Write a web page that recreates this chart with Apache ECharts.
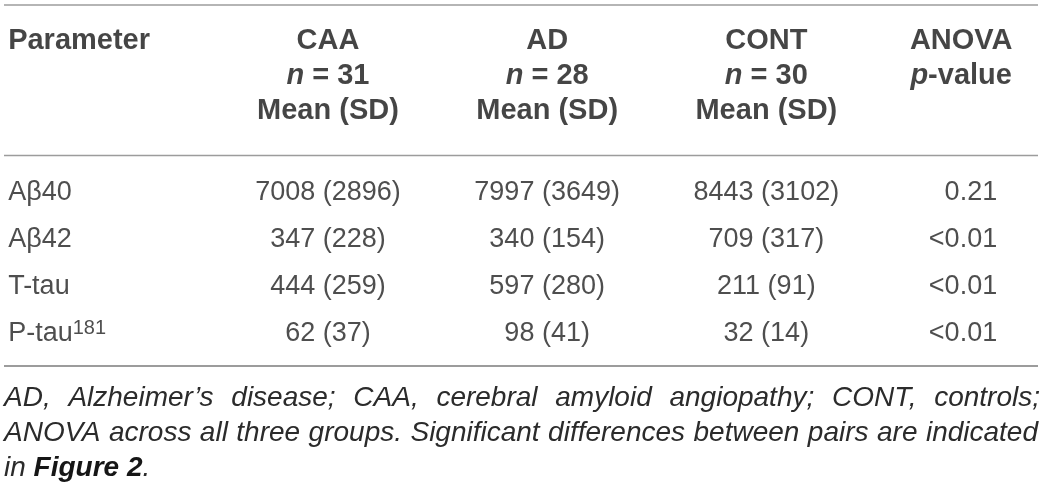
<!DOCTYPE html>
<html lang="en">
<head>
    <meta charset="UTF-8">
    <title>CSF biomarkers by group</title>
    <script src="https://cdn.jsdelivr.net/npm/echarts@6/dist/echarts.min.js"></script>
    <style>
        html, body {
            margin: 0;
            padding: 0;
            background: #fff;
        }

        #main {
            width: 1043px;
            height: 492px;
        }
    </style>
</head>
<body>
<div id="main"></div>
<script type="text/javascript">
    // table content
    var columns = ['Parameter', 'CAA', 'AD', 'CONT', 'ANOVA']
    var groupN = [31, 28, 30]
    var parameters = ['Aβ40', 'Aβ42', 'T-tau', 'P-tau']
    var paramSup = ['', '', '', '181']
    var caaMean = [7008, 347, 444, 62]
    var caaSD = [2896, 228, 259, 37]
    var adMean = [7997, 340, 597, 98]
    var adSD = [3649, 154, 280, 41]
    var contMean = [8443, 709, 211, 32]
    var contSD = [3102, 317, 91, 14]
    var anovaP = ['0.21', '<0.01', '<0.01', '<0.01']
    var footLine1 = 'AD, Alzheimer’s disease; CAA, cerebral amyloid angiopathy; CONT, controls;'
    var footLine2 = 'ANOVA across all three groups. Significant differences between pairs are indicated'

    var FONT = '"Liberation Sans", Arial, Helvetica, sans-serif'
    var HEAD_COLOR = '#161616'
    var BODY_COLOR = '#222'

    var headRich = {
        b: {fontFamily: FONT, fontWeight: 'bold', fontSize: 29, color: HEAD_COLOR, lineHeight: 32},
        bi: {fontFamily: FONT, fontWeight: 'bold', fontStyle: 'italic', fontSize: 29, color: HEAD_COLOR, lineHeight: 32}
    }
    var bodyRich = {
        t: {fontFamily: FONT, fontSize: 27, color: BODY_COLOR, lineHeight: 30},
        sup: {fontFamily: FONT, fontSize: 20, color: BODY_COLOR, lineHeight: 24, verticalAlign: 'top'}
    }

    var groupMeans = [caaMean, adMean, contMean]
    var groupSDs = [caaSD, adSD, contSD]

    function cellSeries(gridIdx, data, label) {
        return {
            type: 'scatter',
            xAxisIndex: gridIdx,
            yAxisIndex: gridIdx,
            symbolSize: 0,
            silent: true,
            itemStyle: {color: 'transparent'},
            data: data,
            label: Object.assign({show: true, position: 'inside'}, label)
        }
    }

    var series = []

    // header rows
    series.push(cellSeries(1, [[0, 0]], {
        align: 'left', offset: [-100.6, 0], rich: headRich,
        formatter: function () { return '{b|' + columns[0] + '}' }
    }))
    groupN.forEach(function (n, g) {
        series.push(cellSeries(1, [[g + 1, 0], [g + 1, 1], [g + 1, 2]], {
            rich: headRich,
            formatter: function (p) {
                if (p.dataIndex === 0) return '{b|' + columns[g + 1] + '}'
                if (p.dataIndex === 1) return '{bi|n}{b| = ' + n + '}'
                return '{b|Mean (SD)}'
            }
        }))
    })
    series.push(cellSeries(1, [[4, 0], [4, 1]], {
        offset: [-24.4, 0], rich: headRich,
        formatter: function (p) {
            return p.dataIndex === 0 ? '{b|' + columns[4] + '}' : '{bi|p}{b|-value}'
        }
    }))

    // body rows
    series.push(cellSeries(0, parameters.map(function (_, i) { return [0, i] }), {
        align: 'left', offset: [-100.6, 0], rich: bodyRich,
        formatter: function (p) {
            var s = '{t|' + parameters[p.dataIndex] + '}'
            if (paramSup[p.dataIndex]) s += '{sup|' + paramSup[p.dataIndex] + '}'
            return s
        }
    }))
    groupMeans.forEach(function (means, g) {
        series.push(cellSeries(0, means.map(function (_, i) { return [g + 1, i] }), {
            rich: bodyRich,
            formatter: function (p) {
                return '{t|' + means[p.dataIndex] + ' (' + groupSDs[g][p.dataIndex] + ')}'
            }
        }))
    })
    series.push(cellSeries(0, anovaP.map(function (_, i) { return [4, i] }), {
        align: 'right', offset: [11.6, 0], rich: bodyRich,
        formatter: function (p) { return '{t|' + anovaP[p.dataIndex] + '}' }
    }))

    // footnote: condensed italic, justified like the source
    var measure = document.createElement('canvas').getContext('2d')
    var footSize = 28
    var footFont = 'italic ' + footSize + 'px ' + FONT
    function textWidth(str, font) {
        measure.font = font
        return measure.measureText(str).width
    }
    var squeeze = Math.min(1, 1033 / textWidth(footLine2, footFont))

    function justify(line, x0, x1, y) {
        var words = line.split(' ')
        var widths = words.map(function (w) { return textWidth(w, footFont) * squeeze })
        var total = widths.reduce(function (a, b) { return a + b }, 0)
        var gap = (x1 - x0 - total) / (words.length - 1)
        var x = x0
        return words.map(function (w, i) {
            var el = {
                type: 'text', x: x, y: y, scaleX: squeeze, silent: true,
                style: {
                    text: w, fill: '#2b2b2b', font: footFont,
                    verticalAlign: 'middle', align: 'left'
                }
            }
            x += widths[i] + gap
            return el
        })
    }

    var rule = function (y, w) {
        return {
            type: 'line', silent: true,
            shape: {x1: 4, y1: y, x2: 1038, y2: y},
            style: {stroke: '#9c9c9c', lineWidth: w}
        }
    }

    var graphics = [rule(5, 1.5), rule(155.5, 1.5), rule(366, 2)]
        .concat(justify(footLine1, 4, 1040, 398))
        .concat(justify(footLine2, 4, 1038, 433))
    graphics.push({
        type: 'text', x: 4, y: 468, scaleX: squeeze, silent: true,
        style: {
            text: '{i|in }{b|Figure 2}{i|.}',
            verticalAlign: 'middle',
            rich: {
                i: {fontFamily: FONT, fontStyle: 'italic', fontSize: footSize, fill: '#2b2b2b'},
                b: {fontFamily: FONT, fontStyle: 'italic', fontWeight: 'bold', fontSize: footSize, fill: '#161616'}
            }
        }
    })

    var headRows = ['name', 'n', 'stat']

    // column index runs along a value axis; the extent sets the column pitch (~219px)
    var colAxis = {type: 'value', min: -0.496, max: 4.262, show: false}

    var option = {
        animation: false,
        grid: [
            {left: 0, right: 0, top: 168.4, height: 189.2},
            {left: 0, right: 0, top: 23.5, height: 105}
        ],
        xAxis: [
            Object.assign({gridIndex: 0}, colAxis),
            Object.assign({gridIndex: 1}, colAxis)
        ],
        yAxis: [
            {type: 'category', gridIndex: 0, data: parameters, inverse: true, show: false},
            {type: 'category', gridIndex: 1, data: headRows, inverse: true, show: false}
        ],
        series: series,
        graphic: graphics
    }

    var myChart = echarts.init(document.getElementById('main'))
    myChart.setOption(option)
</script>
</body>
</html>
